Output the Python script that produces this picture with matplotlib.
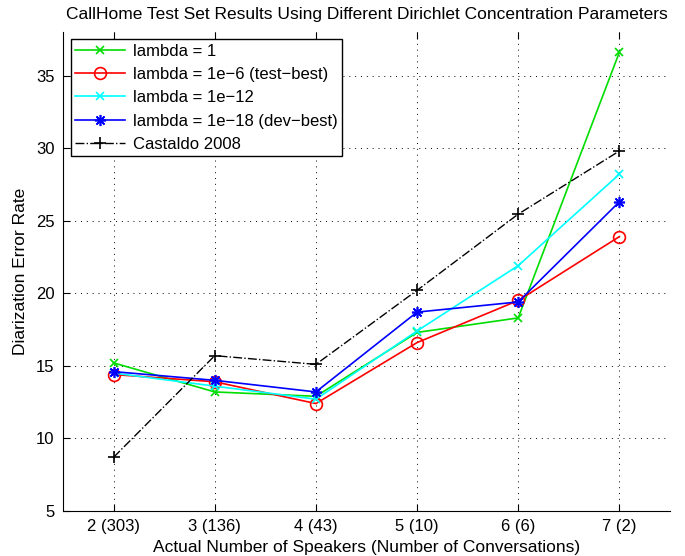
import numpy as np
import matplotlib.pyplot as plt

plt.rcParams['font.family'] = ['Liberation Sans', 'DejaVu Sans']

speakers = [2, 3, 4, 5, 6, 7]
tick_labels = ["2 (303)", "3 (136)", "4 (43)", "5 (10)", "6 (6)", "7 (2)"]

lambda_1 = [15.2, 13.2, 12.9, 17.3, 18.3, 36.6]
lambda_1e6 = [14.4, 13.9, 12.4, 16.6, 19.5, 23.9]
lambda_1e12 = [14.5, 13.6, 12.7, 17.4, 21.9, 28.2]
lambda_1e18 = [14.6, 14.0, 13.2, 18.7, 19.4, 26.3]
castaldo_2008 = [8.7, 15.7, 15.1, 20.2, 25.45, 29.8]

fig = plt.figure(figsize=(6.85, 5.56), dpi=100)
ax = fig.add_axes([0.092, 0.081, 0.886, 0.8615])

# matlab-ish asterisk marker: 8 spokes
star = (8, 2, 0)

ax.plot(speakers, lambda_1, color="#00dd00", marker="x", ms=6, mew=1.2, lw=1.2, label="lambda = 1")
ax.plot(speakers, lambda_1e6, color="#ff0000", marker="o", ms=8.5, mfc="none", mew=1.2, lw=1.2,
        label="lambda = 1e\u22126 (test\u2212best)")
ax.plot(speakers, lambda_1e12, color="#00ffff", marker="x", ms=6, mew=1.2, lw=1.2,
        label="lambda = 1e\u221212")
ax.plot(speakers, lambda_1e18, color="#0000ff", marker=star, ms=8, mew=1.2, lw=1.2,
        label="lambda = 1e\u221218 (dev\u2212best)")
ax.plot(speakers, castaldo_2008, color="black", marker="+", ms=9, mew=1.2, lw=1.0, ls="-.",
        label="Castaldo 2008")

ax.set_xlim(1.5, 7.5)
ax.set_ylim(5, 38)
ax.set_xticks(speakers)
ax.set_xticklabels(tick_labels)
ax.set_yticks([5, 10, 15, 20, 25, 30, 35])
ax.tick_params(direction="in", labelsize=12, length=5, top=True, pad=6)
ax.grid(True, color="black", ls=(0, (1, 5)), lw=0.7)
for side in ["top", "right"]:
    ax.spines[side].set_visible(False)

ax.set_xlabel("Actual Number of Speakers (Number of Conversations)", fontsize=12.5, labelpad=4)
ax.set_ylabel("Diarization Error Rate", fontsize=12.5, labelpad=6)
ax.set_title("CallHome Test Set Results Using Different Dirichlet Concentration Parameters",
             fontsize=12.5, pad=9)

leg = ax.legend(loc="upper left", fontsize=12, fancybox=False, edgecolor="black",
                framealpha=1, borderaxespad=0.45, handlelength=3.0, labelspacing=0.5,
                borderpad=0.25, handletextpad=0.5)
leg.get_frame().set_linewidth(1.0)

fig.savefig("out.png", dpi=100)
